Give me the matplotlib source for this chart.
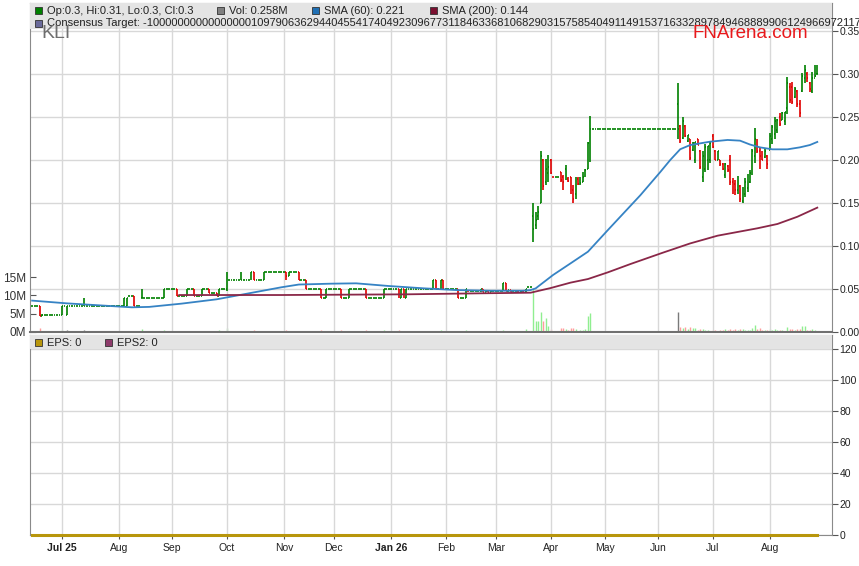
import numpy as np
import pandas as pd
import matplotlib
matplotlib.use("Agg")
import matplotlib.pyplot as plt
from matplotlib.collections import LineCollection
from matplotlib.patches import Rectangle

plt.rcParams["font.family"] = ["Liberation Sans", "DejaVu Sans"]

# ── Data ──────────────────────────────────────────────────────────────────────
START, END = "2025-06-13", "2026-08-28"     # trading days (business days)

# runs of identical daily bars: (days, open, high, low, close, volume in M)
BAR_RUNS = [
    (3, .03, .03, .03, .03, .3), (1, .03, .03, .019, .019, 1.2), (1, .019, .021, .019, .02, .4),
    (7, .02, .02, .02, .02, .3),
    (1, .02, .03, .02, .03, .5), (1, .03, .03, .03, .03, .2), (1, .02, .03, .02, .03, .6),
    (6, .03, .03, .03, .03, .3), (1, .03, .04, .03, .03, .5), (15, .03, .03, .03, .03, .2),
    (1, .03, .04, .03, .04, .4), (1, .03, .04, .03, .04, .3), (2, .042, .042, .042, .042, .2),
    (1, .042, .042, .03, .03, .3), (2, .03, .03, .03, .03, .2), (1, .04, .05, .04, .04, .8),
    (8, .04, .04, .04, .04, .2), (1, .04, .05, .04, .05, .6), (4, .05, .05, .05, .05, .2),
    (1, .05, .05, .042, .042, .4), (3, .042, .042, .042, .042, .2), (1, .042, .05, .042, .05, .3),
    (2, .05, .05, .05, .05, .2), (1, .05, .05, .042, .042, .3), (2, .042, .042, .042, .042, .2),
    (1, .042, .05, .042, .05, .3), (2, .05, .05, .05, .05, .2), (1, .05, .05, .045, .045, .4),
    (2, .045, .045, .045, .045, .2), (1, .045, .045, .042, .042, .3), (1, .042, .05, .042, .05, .5),
    (2, .05, .05, .05, .05, .3), (1, .05, .07, .048, .06, 1.2), (5, .06, .06, .06, .06, .3),
    (1, .06, .07, .06, .06, .4), (3, .06, .06, .06, .06, .2), (1, .06, .07, .06, .07, .4),
    (1, .07, .07, .06, .06, .5), (3, .06, .06, .06, .06, .2), (1, .06, .07, .06, .07, .4),
    (8, .07, .07, .07, .07, .2), (1, .07, .07, .06, .065, .5), (1, .065, .07, .065, .07, .3),
    (3, .07, .07, .07, .07, .2), (1, .07, .07, .06, .06, .3), (2, .06, .06, .06, .06, .2),
    (1, .06, .06, .05, .05, .4), (5, .05, .05, .05, .05, .1), (1, .05, .05, .04, .04, .5),
    (1, .04, .04, .04, .04, .1), (1, .04, .05, .04, .05, .3), (5, .05, .05, .05, .05, .1),
    (1, .05, .05, .04, .04, .6), (2, .04, .04, .04, .04, .1), (1, .04, .05, .04, .05, .3),
    (6, .05, .05, .05, .05, .1), (1, .05, .05, .04, .04, .5), (6, .04, .04, .04, .04, .1),
    (1, .04, .05, .04, .05, .6), (5, .05, .05, .05, .05, .1), (1, .05, .05, .04, .04, .5),
    (1, .04, .05, .04, .05, .4), (1, .05, .05, .04, .04, .3), (1, .04, .05, .04, .05, .4),
    (10, .05, .05, .05, .05, .1), (1, .05, .06, .05, .06, .4), (1, .06, .06, .05, .05, .3),
    (1, .05, .05, .05, .05, .1), (1, .05, .06, .05, .06, .5), (1, .06, .06, .05, .05, .3),
    (5, .05, .05, .05, .05, .1), (1, .05, .05, .04, .04, .3), (2, .04, .04, .04, .04, .1),
    (1, .04, .05, .04, .05, .6), (5, .048, .048, .048, .048, .1), (1, .048, .05, .047, .05, .3),
    (1, .05, .05, .047, .047, .3), (1, .047, .048, .047, .048, .2), (1, .048, .048, .046, .046, .3),
    (1, .046, .048, .046, .048, .2), (4, .048, .048, .048, .048, .1), (1, .048, .057, .048, .057, .6),
    (1, .057, .057, .048, .048, .3), (1, .048, .049, .047, .049, .2), (1, .049, .049, .047, .047, .2),
    (2, .048, .048, .048, .048, .1), (1, .048, .048, .046, .046, .2), (1, .046, .048, .046, .048, .2),
    (1, .048, .048, .046, .046, .3), (1, .046, .05, .046, .05, .8), (2, .052, .052, .052, .052, .3),
    # late March jump
    (1, .135, .15, .105, .12, 11.7), (1, .125, .14, .12, .13, 3.0), (1, .135, .146, .13, .14, 3.0),
    (1, .15, .211, .15, .205, 5.5), (1, .2, .201, .165, .17, 3.0), (1, .175, .201, .171, .19, 3.8),
    (1, .185, .206, .175, .192, 1.6), (1, .2, .201, .184, .185, .8), (3, .18, .18, .18, .18, .3),
    (1, .186, .186, .175, .177, 1.0), (1, .18, .182, .165, .175, 1.2), (1, .19, .194, .177, .18, .8),
    (1, .178, .18, .175, .176, .5), (1, .18, .18, .161, .165, 1.0), (1, .165, .171, .15, .155, 1.1),
    (1, .16, .18, .155, .175, .8), (1, .178, .18, .171, .172, .4), (1, .175, .18, .171, .173, .5),
    (1, .175, .186, .175, .18, .6), (1, .182, .19, .18, .188, .8), (1, .19, .221, .19, .22, 4.4),
    (1, .2, .251, .198, .236, 5.3),
    # trading halt
    (34, .236, .236, .236, .236, 0.0),
    # June - August
    (1, .265, .29, .225, .236, 5.5), (1, .24, .2405, .2203, .222, 1.4), (1, .226, .2504, .225, .245, 1.0),
    (1, .24, .2405, .227, .228, 1.5), (1, .222, .229, .221, .229, .8), (1, .225, .225, .2, .202, 1.5),
    (1, .212, .221, .211, .22, 1.2), (1, .2, .2213, .196, .221, 1.0), (1, .224, .225, .217, .218, .6),
    (1, .21, .212, .19, .192, .7), (1, .18, .21, .175, .205, .9), (1, .19, .219, .186, .215, .5),
    (1, .2, .216, .188, .216, .6), (1, .2, .221, .196, .22, .4), (1, .228, .23, .214, .215, .6),
    (1, .21, .212, .2, .2, .5), (1, .2, .211, .2, .21, .4), (1, .2, .2, .193, .195, .6),
    (1, .195, .196, .188, .19, .5), (1, .182, .196, .179, .195, .7), (1, .193, .194, .186, .188, .5),
    (1, .2, .2055, .171, .175, .9), (1, .175, .179, .161, .17, .6), (1, .172, .177, .159, .165, .7),
    (1, .165, .181, .161, .178, .6), (1, .17, .171, .151, .155, .8), (1, .152, .169, .15, .165, .7),
    (1, .16, .179, .157, .175, .5), (1, .168, .184, .163, .18, .6), (1, .175, .188, .173, .185, .5),
    (1, .185, .213, .182, .21, 1.0), (1, .205, .237, .196, .225, 2.0), (1, .222, .225, .208, .21, .8),
    (1, .21, .215, .19, .205, 1.0), (1, .205, .21, .2, .2, .5), (1, .203, .214, .202, .21, .5),
    (1, .205, .206, .19, .195, .6), (1, .212, .231, .212, .228, .8), (1, .225, .241, .219, .238, .6),
    (1, .23, .25, .225, .245, .9), (1, .235, .248, .231, .247, .5), (1, .25, .255, .239, .242, .6),
    (1, .247, .256, .246, .255, .5), (1, .245, .256, .241, .256, .4), (1, .26, .297, .254, .29, 1.5),
    (1, .285, .29, .266, .27, .8), (1, .285, .291, .265, .268, .7), (1, .273, .285, .272, .282, .6),
    (1, .28, .281, .262, .265, .7), (1, .265, .27, .25, .255, .8), (1, .28, .301, .279, .298, 1.6),
    (1, .295, .311, .289, .305, 1.6), (1, .3, .302, .291, .295, .5), (1, .29, .291, .279, .282, .6),
    (1, .28, .302, .278, .295, .8), (1, .295, .311, .296, .298, .5), (1, .3, .31, .3, .3, .258),
]

# moving averages at sample days (day index, value)
SMA60_DAY = [0, 14, 27, 40, 47, 60, 74, 87, 100, 107, 120, 130, 143, 157, 170, 184, 197, 200,
             202, 209, 216, 223, 231, 244, 252, 256, 260, 264, 272, 279, 284, 288, 292, 297,
             303, 308, 312, 315]
SMA60_VAL = [.0365, .0333, .031, .0287, .0292, .033, .038, .045, .052, .0552, .0562, .0566,
             .0535, .0508, .0488, .048, .048, .0488, .0507, .0663, .0798, .0934, .1186, .159,
             .186, .2, .2125, .2174, .2213, .2233, .2225, .218, .2147, .2124, .2124, .2147,
             .2174, .221]
SMA200_DAY = [59, 100, 150, 180, 195, 200, 208, 216, 223, 231, 240, 253, 264, 275, 291, 299, 307, 315]
SMA200_VAL = [.043, .043, .0438, .045, .0455, .0457, .0511, .0574, .0616, .0694, .079, .0922,
              .103, .112, .1206, .1256, .134, .1446]

EPS_VALUE = 0
MONTH_LABELS = ["Jul 25", "Aug", "Sep", "Oct", "Nov", "Dec", "Jan 26", "Feb", "Mar", "Apr",
                "May", "Jun", "Jul", "Aug"]
PRICE_TICKS = [0.0, 0.05, 0.10, 0.15, 0.20, 0.25, 0.30, 0.35]
VOL_TICKS = [0, 5, 10, 15]
EPS_TICKS = [0, 20, 40, 60, 80, 100, 120]

LEGEND_TOP = [("#008000", "Op:0.3, Hi:0.31, Lo:0.3, Cl:0.3"),
              ("#808080", "Vol: 0.258M"),
              ("#1f6fb4", "SMA (60): 0.221"),
              ("#7a1030", "SMA (200): 0.144")]
CONSENSUS = ("Consensus Target: -10000000000000000109790636294404554174049230967731184633681068290"
             "315758540491149153716332897849468889906124966972117220")
LEGEND_EPS = [("#b8960c", "EPS: 0"), ("#8e3b6b", "EPS2: 0")]

# ── Colours ───────────────────────────────────────────────────────────────────
UP, DOWN = "#008000", "#e00000"
VOL_UP, VOL_DOWN, VOL_FLAT = "#90ee90", "#ff9c9c", "#7a7a7a"
BLUE, MAROON, GOLD = "#3683c4", "#8a2748", "#b8960c"
GRID, BAND, SPINE, TEXT = "#d8d8d8", "#e4e4e4", "#8a8a8a", "#222222"

W, H = 859, 566

# ── Expand runs into daily bars ───────────────────────────────────────────────
runs = np.array(BAR_RUNS, dtype=float)
n_days = runs[:, 0].astype(int)
o, h, l, c, v = (np.repeat(runs[:, k], n_days) for k in range(1, 6))
dates = pd.bdate_range(START, END)
x = np.arange(len(c))

# down bars red, everything else green; volume grey when unchanged
up = np.ones(len(c), dtype=bool)
vol_col = [VOL_FLAT]
for i in range(1, len(c)):
    up[i] = c[i] >= c[i - 1]
    if c[i] == c[i - 1]:
        vol_col.append(VOL_FLAT)
    else:
        vol_col.append(VOL_UP if up[i] else VOL_DOWN)

months = dates.to_period("M")
month_pos = np.flatnonzero(months[1:] != months[:-1]) + 1


def fbox(x0, y0, x1, y1):
    """Pixel box (top-left origin) -> figure-fraction rect."""
    return [x0 / W, 1 - y1 / H, (x1 - x0) / W, (y1 - y0) / H]


fig = plt.figure(figsize=(W / 100, H / 100), dpi=100)
fig.patch.set_facecolor("white")

ax_vol = fig.add_axes(fbox(30, 3, 832, 332))
ax = fig.add_axes(fbox(30, 3, 832, 332), sharex=ax_vol)
ax_eps = fig.add_axes(fbox(30, 335, 832, 535), sharex=ax_vol)
ax.patch.set_visible(False)

ax_vol.set_xlim(-0.85, x[-1] + 5.9)

# ── Volume (left scale) ───────────────────────────────────────────────────────
ax_vol.vlines(x, 0, v, colors=vol_col, lw=1.0)
ax_vol.set_ylim(0, 329 / 18.3 * 5)
ax_vol.set_yticks(VOL_TICKS)
ax_vol.set_yticklabels([f"{t}M" for t in VOL_TICKS])
ax_vol.tick_params(axis="y", left=True, labelleft=True, direction="in", length=4,
                   color="#555555", labelsize=8.5, labelcolor="#333333", pad=3)
ax_vol.tick_params(axis="x", bottom=False, labelbottom=False)
for s in ax_vol.spines.values():
    s.set_visible(False)

# ── Price OHLC ────────────────────────────────────────────────────────────────
segs, cols = [], []
for i in range(len(c)):
    col = UP if up[i] else DOWN
    segs += [[(i, l[i]), (i, h[i])], [(i - 0.38, o[i]), (i, o[i])], [(i, c[i]), (i + 0.38, c[i])]]
    cols += [col] * 3
ax.add_collection(LineCollection(segs, colors=cols, linewidths=1.2, capstyle="butt", zorder=3))
ax.plot(SMA60_DAY, SMA60_VAL, color=BLUE, lw=1.3, zorder=4)
ax.plot(SMA200_DAY, SMA200_VAL, color=MAROON, lw=1.3, zorder=4)

ax.set_ylim(0, 329 / 860)
ax.set_yticks(PRICE_TICKS)
ax.set_yticklabels([f"{t:.2f}" for t in PRICE_TICKS])
ax.yaxis.tick_right()
ax.tick_params(axis="y", direction="out", length=4, color="#555555", labelsize=7.5,
               labelcolor=TEXT, pad=1.5)
ax.tick_params(axis="x", bottom=False, labelbottom=False)
ax.set_axisbelow(True)
ax.grid(True, color=GRID, lw=1.0)
for s in ax.spines.values():
    s.set_color(SPINE)
ax.spines["bottom"].set_color("#707070")
ax.spines["bottom"].set_linewidth(1.5)

# legend band of the price panel
ax.add_patch(Rectangle((0, 1 - 26 / 329), 1, 26 / 329, transform=ax.transAxes,
                       fc=BAND, ec="none", zorder=10))

# ── EPS panel ─────────────────────────────────────────────────────────────────
ax_eps.plot([x[0], x[-1]], [EPS_VALUE, EPS_VALUE], color=GOLD, lw=2.2, clip_on=False, zorder=4)
ax_eps.set_ylim(0, 129)
ax_eps.set_yticks(EPS_TICKS)
ax_eps.yaxis.tick_right()
ax_eps.tick_params(axis="y", direction="out", length=4, color="#555555", labelsize=7.5,
                   labelcolor=TEXT, pad=1.5)
ax_eps.set_xticks(month_pos)
ax_eps.set_xticklabels(MONTH_LABELS)
ax_eps.tick_params(axis="x", direction="out", length=3, color="#555555", labelsize=7.5,
                   labelcolor=TEXT, pad=3)
for lab in ax_eps.get_xticklabels():
    if lab.get_text() in ("Jul 25", "Jan 26"):
        lab.set_fontweight("bold")
ax_eps.set_axisbelow(True)
ax_eps.grid(True, color=GRID, lw=1.0)
for s in ax_eps.spines.values():
    s.set_color(SPINE)
ax_eps.add_patch(Rectangle((0, 1 - 14 / 200), 1, 14 / 200, transform=ax_eps.transAxes,
                           fc=BAND, ec="none", zorder=10))


# ── Legend entries & labels (pixel positions) ─────────────────────────────────
def legend_item(px, py, colour, label):
    fig.add_artist(Rectangle((px / W, 1 - (py + 3.5) / H), 7 / W, 7 / H,
                             transform=fig.transFigure, fc=colour, ec="#333333", lw=0.6,
                             zorder=20))
    fig.text((px + 12) / W, 1 - py / H, label, fontsize=8, color=TEXT,
             ha="left", va="center", zorder=20)


for px, (colour, label) in zip([35, 217, 312, 430], LEGEND_TOP):
    legend_item(px, 10.5, colour, label)
legend_item(35, 23.5, "#6a6a9a", CONSENSUS)
for px, (colour, label) in zip([35, 105], LEGEND_EPS):
    legend_item(px, 342.5, colour, label)

fig.text(41 / W, 1 - 33 / H, "KLI", fontsize=14, color="#6e6e6e", ha="left",
         va="center", zorder=21)
fig.text(693 / W, 1 - 33.5 / H, "FNArena.com", fontsize=13.5, color="#e8191c",
         ha="left", va="center", zorder=21)

fig.savefig("out.png", dpi=100)
